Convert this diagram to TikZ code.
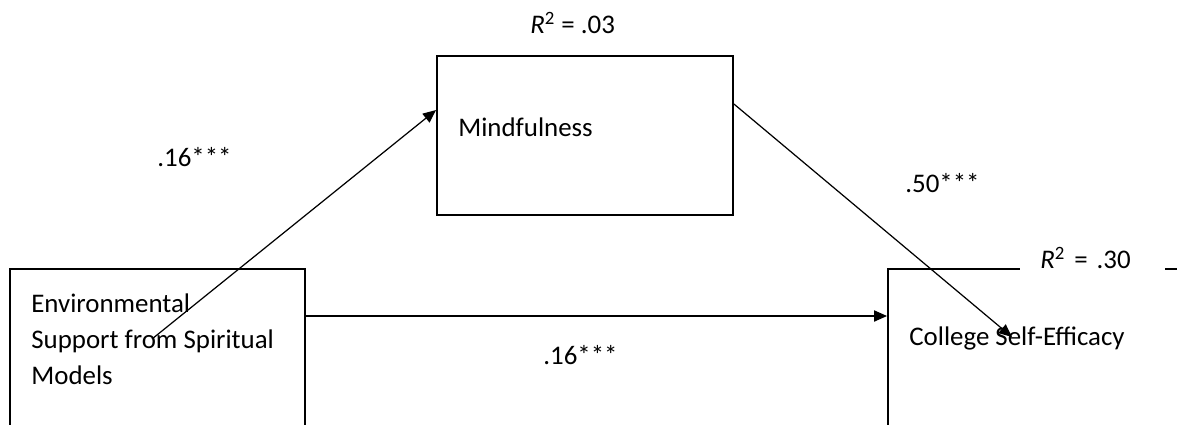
\documentclass[tikz,border=0pt]{standalone}
\usepackage{fontspec}
\setmainfont{Carlito}
\usetikzlibrary{arrows.meta,positioning,calc}

\begin{document}
\begin{tikzpicture}[
		>={Triangle[length=7.4pt,width=6.4pt]},
		font=\fontsize{15.3}{20.4}\selectfont,
		varbox/.style={draw, line width=1.1pt, inner sep=0pt},
		vartext/.style={anchor=west, align=left, inner sep=0pt},
		coef/.style={anchor=west, inner sep=0pt},
		path/.style={->, line width=0.7pt}
		]
		
		\useasboundingbox (0,0) rectangle (23.54,-8.48);
		
		% --------------------------------------------------
		% Boxes
		% --------------------------------------------------
		\node[varbox, minimum width=5.92cm, minimum height=3.18cm] (mind) at (11.70,-2.71) {};
		\node[varbox, minimum width=5.90cm, minimum height=3.42cm] (esm) at (3.15,-7.09) {};
		\node[varbox, minimum width=6.44cm, minimum height=3.42cm] (cse) at (20.98,-7.09) {};
		
		\node[vartext] (mindtxt) at (9.16,-2.54) {Mindfulness};
		\node[vartext] (esmtxt) at (0.62,-6.79) {Environmental\\Support from Spiritual\\Models};
		\node[vartext] (csetxt) at (18.18,-6.76) {College Self-Efficacy};
		
		% --------------------------------------------------
		% R squared
		% --------------------------------------------------
		\node[coef] (r2mind) at (10.60,-0.46) {\textit{R}\textsuperscript{2} = .03};
		\node[fill=white, inner xsep=0.4cm, inner ysep=2pt, text width=2.1cm, align=left, anchor=west] (r2cse) at (20.40,-5.16) {\textit{R}\textsuperscript{2} = .30};
		
		% --------------------------------------------------
		% Paths
		% --------------------------------------------------
		\coordinate (astart) at (3.04,-6.78);
		\coordinate (bend) at (20.24,-6.74);
		\coordinate (clevel) at (0,-6.32);
		
		\draw[path] (astart) -- ($(mind.north west)+(0,-1.10)$);
		\draw[path] ($(mind.north east)+(0,-0.98)$) -- (bend);
		\draw[path] (esm.east |- clevel) -- (cse.west |- clevel);
		
		\node[coef] (apath) at (3.14,-3.14) {.16***};
		\node[coef] (bpath) at (18.10,-3.66) {.50***};
		\node[coef] (cpath) at (10.86,-7.10) {.16***};
		
	\end{tikzpicture}
\end{document}
